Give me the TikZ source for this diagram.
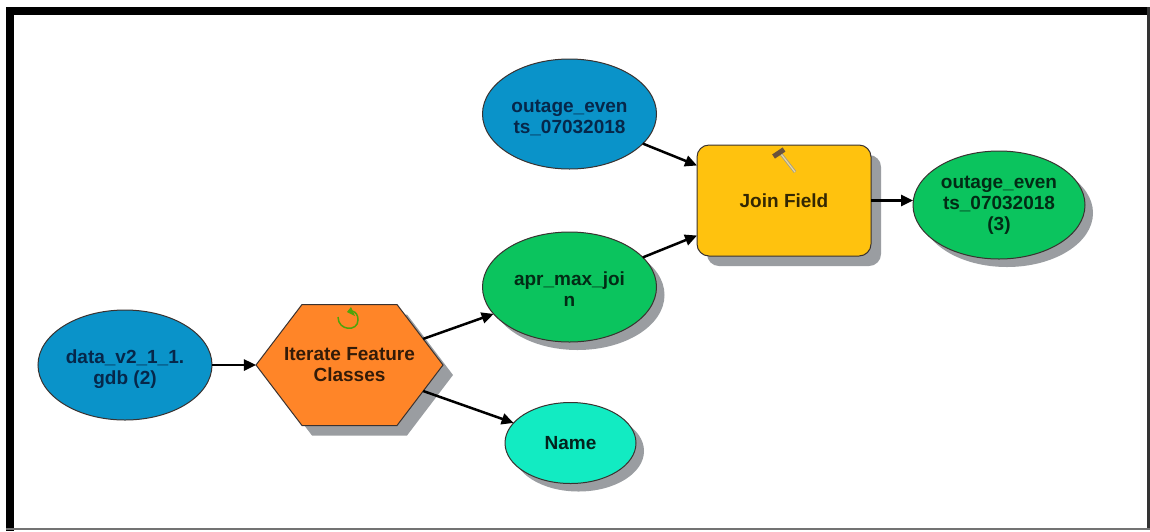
\documentclass[tikz,border=0pt]{standalone}
\usepackage{fontspec}
\setmainfont{Liberation Sans}
\usetikzlibrary{shapes.geometric,shapes.symbols,shadows,arrows.meta}
\definecolor{blueN}{HTML}{0A93C9}
\definecolor{blueT}{HTML}{06274A}
\definecolor{greenN}{HTML}{0BC45E}
\definecolor{turqN}{HTML}{12EBC2}
\definecolor{yellowN}{HTML}{FFC20E}
\definecolor{orangeN}{HTML}{FF8528}
\definecolor{shadowN}{HTML}{9A9DA1}
\definecolor{edgeN}{HTML}{3A3230}
\definecolor{iconG}{HTML}{4FA30A}
\newcommand{\lowered}[1]{\rule{0pt}{#1pt}}
\tikzset{
  basenode/.style={draw=edgeN,line width=1pt,inner sep=0pt,outer sep=0pt,align=center,
    font=\fontsize{19}{21}\selectfont\bfseries},
  shad/.style={drop shadow={shadow xshift=#1pt,shadow yshift=-#1pt,fill=shadowN,opacity=1}},
  dataoval/.style={basenode,ellipse,minimum width=174pt,minimum height=110pt},
  blueoval/.style={dataoval,fill=blueN,text=blueT},
  greenoval/.style={dataoval,shad=8,fill=greenN,text=black!78!greenN},
  toolbox/.style={basenode,rounded corners=12pt,shad=10,fill=yellowN,text=black!80!yellowN,
    minimum width=174pt,minimum height=111pt},
  iterbox/.style={basenode,signal,signal to=east and west,signal pointer angle=105.5,shad=10,
    fill=orangeN,minimum width=187pt,minimum height=121pt},
  iterlabel/.style={align=center,inner sep=0pt,text=black!80!orangeN,
    font=\fontsize{19}{21}\selectfont\bfseries},
  link/.style={draw=black,line width=2.5pt,-{Triangle[length=12pt,width=11pt]}},
}
\begin{document}
\begin{tikzpicture}[x=1pt,y=-1pt]
\useasboundingbox (0,0) rectangle (1150,531);
\fill[white] (0,0) rectangle (1150,531);
% frame
\fill[black] (6,7) rectangle (1150,15);
\fill[black] (6,7) rectangle (14,531);
\fill[black!80] (1147,7) rectangle (1150,530);
\fill[black!55] (6,528) rectangle (1150,530);
% nodes
\node[blueoval] (outageA) at (569.5,114) {\lowered{20}outage\_even\\ts\_07032018};
\node[greenoval] (apr) at (569.5,287) {\lowered{18}apr\_max\_joi\\n};
\node[greenoval,fill=turqN,text=black!85!turqN,minimum width=131pt,minimum height=81pt] (name) at (570.5,443) {Name};
\node[blueoval] (data) at (125,365) {\lowered{22}data\_v2\_1\_1.\\gdb (2)};
\node[greenoval,minimum width=172pt,minimum height=108pt] (outageB) at (999,205) {outage\_even\\ts\_07032018\\(3)};
\node[toolbox] (join) at (784,200.5) {Join Field};
\node[iterbox] (iter) at (349.5,365) {};
\node[iterlabel] (iterText) at (iter.center) {Iterate Feature\\Classes};
% connectors
\draw[link] (data) -- (iter);
\draw[link] (iter) -- (apr);
\draw[link] (iter) -- (name);
\draw[link] (outageA) -- (join);
\draw[link] (apr) -- (join);
\draw[link] (join.east) -- (outageB.west |- join.east);
% iterate icon
\draw[iconG,line width=1.5pt] (338,317) .. controls (338,331) and (358,332) .. (358,320) .. controls (358,315) and (356,312) .. (352,311);
\fill[iconG] (351,307) -- (355,316) -- (347,312) -- cycle;
% hammer icon
\draw[black!40,line width=2.8pt] (781,154) -- (795,172);
\draw[yellow!40!brown!50!white,line width=1.2pt] (781,154) -- (795,172);
\draw[black!50!brown!70!gray,line width=5pt] (773.5,156.5) -- (784,149.5);
\end{tikzpicture}
\end{document}
